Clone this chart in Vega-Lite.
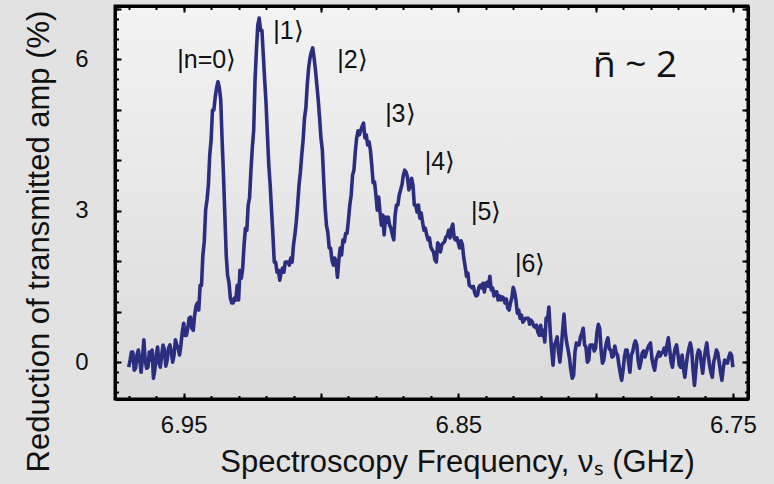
{
  "$schema": "https://vega.github.io/schema/vega-lite/v6.json",
  "width": 633,
  "height": 393,
  "autosize": {"type": "none"},
  "padding": {"left": 115, "top": 6, "right": 26, "bottom": 85},
  "background": "#e2e2e2",
  "config": {
    "font": "Liberation Sans",
    "view": {
      "fill": {"gradient": "linear", "x1": 0, "y1": 0, "x2": 0, "y2": 1, "stops": [{"offset": 0, "color": "#f3f3f3"}, {"offset": 1, "color": "#dadada"}]},
      "stroke": "#000",
      "strokeWidth": 3
    },
    "axis": {"zindex": 2, "grid": false, "tickColor": "#000", "tickWidth": 2, "domainColor": "#000", "domainWidth": 3}
  },
  "datasets": {
    "spectrum": [
      {"f":6.97,"a":-0.1},{"f":6.9695,"a":0.04},{"f":6.969,"a":0.2},{"f":6.9685,"a":0.2},{"f":6.968,"a":-0.16},{"f":6.9675,"a":-0.12},{"f":6.967,"a":0.14},{"f":6.9665,"a":0.24},{"f":6.966,"a":0.04},{"f":6.9655,"a":-0.2},
      {"f":6.965,"a":0.08},{"f":6.9645,"a":0.44},{"f":6.964,"a":0.04},{"f":6.9635,"a":-0.12},{"f":6.963,"a":-0.1},{"f":6.9625,"a":0.2},{"f":6.962,"a":0.04},{"f":6.9615,"a":0.24},{"f":6.961,"a":-0.32},{"f":6.9605,"a":-0.16},
      {"f":6.96,"a":0.14},{"f":6.9595,"a":0.3},{"f":6.959,"a":-0.02},{"f":6.9585,"a":-0.1},{"f":6.958,"a":0.14},{"f":6.9575,"a":0.34},{"f":6.957,"a":0.24},{"f":6.9565,"a":-0.08},{"f":6.956,"a":0.04},{"f":6.9555,"a":0.28},
      {"f":6.955,"a":0.34},{"f":6.9545,"a":0.2},{"f":6.954,"a":0.0},{"f":6.9535,"a":0.14},{"f":6.953,"a":0.44},{"f":6.9525,"a":0.34},{"f":6.952,"a":0.28},{"f":6.9515,"a":0.14},{"f":6.951,"a":0.34},{"f":6.9505,"a":0.6},
      {"f":6.95,"a":0.77},{"f":6.9495,"a":0.53},{"f":6.949,"a":0.53},{"f":6.9485,"a":0.67},{"f":6.948,"a":0.87},{"f":6.9475,"a":0.89},{"f":6.947,"a":0.67},{"f":6.9465,"a":0.63},{"f":6.946,"a":0.93},{"f":6.9455,"a":1.11},
      {"f":6.945,"a":1.17},{"f":6.9445,"a":1.03},{"f":6.944,"a":1.52},{"f":6.9435,"a":1.52},{"f":6.943,"a":2.12},{"f":6.9425,"a":2.38},{"f":6.942,"a":3.01},{"f":6.9415,"a":3.21},{"f":6.941,"a":3.5},{"f":6.9405,"a":4.1},
      {"f":6.94,"a":4.4},{"f":6.9395,"a":4.99},{"f":6.939,"a":4.99},{"f":6.9385,"a":5.25},{"f":6.938,"a":5.43},{"f":6.9375,"a":5.55},{"f":6.937,"a":5.43},{"f":6.9365,"a":5.19},{"f":6.936,"a":4.4},{"f":6.9355,"a":3.7},
      {"f":6.935,"a":2.91},{"f":6.9345,"a":2.12},{"f":6.934,"a":1.72},{"f":6.9335,"a":1.58},{"f":6.933,"a":1.27},{"f":6.9325,"a":1.17},{"f":6.932,"a":1.17},{"f":6.9315,"a":1.27},{"f":6.931,"a":1.23},{"f":6.9305,"a":1.52},
      {"f":6.93,"a":1.23},{"f":6.9295,"a":1.82},{"f":6.929,"a":1.66},{"f":6.9285,"a":1.86},{"f":6.928,"a":2.32},{"f":6.9275,"a":2.65},{"f":6.927,"a":2.61},{"f":6.9265,"a":3.11},{"f":6.926,"a":3.25},{"f":6.9255,"a":3.8},
      {"f":6.925,"a":4.24},{"f":6.9245,"a":4.59},{"f":6.924,"a":5.59},{"f":6.9235,"a":6.18},{"f":6.923,"a":6.67},{"f":6.9225,"a":6.81},{"f":6.922,"a":6.57},{"f":6.9215,"a":6.57},{"f":6.921,"a":6.08},{"f":6.9205,"a":5.59},
      {"f":6.92,"a":5.13},{"f":6.9195,"a":4.5},{"f":6.919,"a":3.9},{"f":6.9185,"a":3.51},{"f":6.918,"a":3.01},{"f":6.9175,"a":2.52},{"f":6.917,"a":1.98},{"f":6.9165,"a":1.98},{"f":6.916,"a":1.78},{"f":6.9155,"a":1.82},
      {"f":6.915,"a":1.62},{"f":6.9145,"a":1.78},{"f":6.914,"a":1.86},{"f":6.9135,"a":1.78},{"f":6.913,"a":1.98},{"f":6.9125,"a":1.98},{"f":6.912,"a":1.98},{"f":6.9115,"a":1.92},{"f":6.911,"a":2.06},{"f":6.9105,"a":1.98},
      {"f":6.91,"a":2.32},{"f":6.9095,"a":2.52},{"f":6.909,"a":2.77},{"f":6.9085,"a":3.11},{"f":6.908,"a":3.5},{"f":6.9075,"a":3.76},{"f":6.907,"a":4.1},{"f":6.9065,"a":4.4},{"f":6.906,"a":4.83},{"f":6.9055,"a":5.03},
      {"f":6.905,"a":5.49},{"f":6.9045,"a":5.82},{"f":6.904,"a":6.02},{"f":6.9035,"a":6.14},{"f":6.903,"a":6.22},{"f":6.9025,"a":6.02},{"f":6.902,"a":5.78},{"f":6.9015,"a":5.49},{"f":6.901,"a":5.19},{"f":6.9005,"a":4.83},
      {"f":6.9,"a":4.44},{"f":6.8995,"a":4.2},{"f":6.899,"a":3.6},{"f":6.8985,"a":3.07},{"f":6.898,"a":2.71},{"f":6.8975,"a":2.57},{"f":6.897,"a":2.26},{"f":6.8965,"a":2.26},{"f":6.896,"a":2.02},{"f":6.8955,"a":1.92},
      {"f":6.895,"a":2.06},{"f":6.8945,"a":1.98},{"f":6.894,"a":1.68},{"f":6.8935,"a":2.02},{"f":6.893,"a":2.26},{"f":6.8925,"a":2.12},{"f":6.892,"a":2.42},{"f":6.8915,"a":2.38},{"f":6.891,"a":2.55},{"f":6.8905,"a":2.55},
      {"f":6.89,"a":2.81},{"f":6.8895,"a":3.11},{"f":6.889,"a":3.31},{"f":6.8885,"a":3.7},{"f":6.888,"a":3.8},{"f":6.8875,"a":4.16},{"f":6.887,"a":4.44},{"f":6.8865,"a":4.58},{"f":6.886,"a":4.5},{"f":6.8855,"a":4.59},
      {"f":6.885,"a":4.67},{"f":6.8845,"a":4.73},{"f":6.884,"a":4.44},{"f":6.8835,"a":4.5},{"f":6.883,"a":4.3},{"f":6.8825,"a":4.36},{"f":6.882,"a":4.2},{"f":6.8815,"a":3.9},{"f":6.881,"a":3.55},{"f":6.8805,"a":3.57},
      {"f":6.88,"a":3.31},{"f":6.8795,"a":3.01},{"f":6.879,"a":3.27},{"f":6.8785,"a":2.97},{"f":6.878,"a":2.71},{"f":6.8775,"a":2.91},{"f":6.877,"a":2.52},{"f":6.8765,"a":2.87},{"f":6.876,"a":2.77},{"f":6.8755,"a":2.87},
      {"f":6.875,"a":2.71},{"f":6.8745,"a":2.65},{"f":6.874,"a":2.52},{"f":6.8735,"a":2.42},{"f":6.873,"a":2.91},{"f":6.8725,"a":3.11},{"f":6.872,"a":3.11},{"f":6.8715,"a":3.31},{"f":6.871,"a":3.41},{"f":6.8705,"a":3.51},
      {"f":6.87,"a":3.7},{"f":6.8695,"a":3.8},{"f":6.869,"a":3.76},{"f":6.8685,"a":3.66},{"f":6.868,"a":3.41},{"f":6.8675,"a":3.47},{"f":6.867,"a":3.64},{"f":6.8665,"a":3.51},{"f":6.866,"a":3.11},{"f":6.8655,"a":3.11},
      {"f":6.865,"a":2.97},{"f":6.8645,"a":3.11},{"f":6.864,"a":2.85},{"f":6.8635,"a":2.95},{"f":6.863,"a":2.77},{"f":6.8625,"a":2.61},{"f":6.862,"a":2.65},{"f":6.8615,"a":2.52},{"f":6.861,"a":2.42},{"f":6.8605,"a":2.46},
      {"f":6.86,"a":2.28},{"f":6.8595,"a":2.22},{"f":6.859,"a":2.18},{"f":6.8585,"a":2.02},{"f":6.858,"a":1.98},{"f":6.8575,"a":2.36},{"f":6.857,"a":2.32},{"f":6.8565,"a":2.18},{"f":6.856,"a":2.32},{"f":6.8555,"a":2.36},
      {"f":6.855,"a":2.38},{"f":6.8545,"a":2.48},{"f":6.854,"a":2.5},{"f":6.8535,"a":2.61},{"f":6.853,"a":2.46},{"f":6.8525,"a":2.65},{"f":6.852,"a":2.73},{"f":6.8515,"a":2.46},{"f":6.851,"a":2.42},{"f":6.8505,"a":2.46},
      {"f":6.85,"a":2.36},{"f":6.8495,"a":2.26},{"f":6.849,"a":2.4},{"f":6.8485,"a":2.32},{"f":6.848,"a":2.06},{"f":6.8475,"a":1.9},{"f":6.847,"a":1.7},{"f":6.8465,"a":1.76},{"f":6.846,"a":1.52},{"f":6.8455,"a":1.5},
      {"f":6.845,"a":1.47},{"f":6.8445,"a":1.5},{"f":6.844,"a":1.37},{"f":6.8435,"a":1.31},{"f":6.843,"a":1.33},{"f":6.8425,"a":1.48},{"f":6.842,"a":1.52},{"f":6.8415,"a":1.47},{"f":6.841,"a":1.56},{"f":6.8405,"a":1.39},
      {"f":6.84,"a":1.56},{"f":6.8395,"a":1.58},{"f":6.839,"a":1.5},{"f":6.8385,"a":1.7},{"f":6.838,"a":1.43},{"f":6.8375,"a":1.47},{"f":6.837,"a":1.31},{"f":6.8365,"a":1.39},{"f":6.836,"a":1.39},{"f":6.8355,"a":1.23},
      {"f":6.835,"a":1.31},{"f":6.8345,"a":1.23},{"f":6.834,"a":1.29},{"f":6.8335,"a":1.27},{"f":6.833,"a":1.17},{"f":6.8325,"a":1.25},{"f":6.832,"a":1.07},{"f":6.8315,"a":1.03},{"f":6.831,"a":1.17},{"f":6.8305,"a":1.27},
      {"f":6.83,"a":1.48},{"f":6.8295,"a":1.39},{"f":6.829,"a":1.23},{"f":6.8285,"a":0.97},{"f":6.828,"a":1.03},{"f":6.8275,"a":0.87},{"f":6.827,"a":0.93},{"f":6.8265,"a":0.79},{"f":6.826,"a":0.83},{"f":6.8255,"a":0.87},
      {"f":6.825,"a":0.87},{"f":6.8245,"a":0.87},{"f":6.824,"a":0.75},{"f":6.8235,"a":0.83},{"f":6.823,"a":0.79},{"f":6.8225,"a":0.71},{"f":6.822,"a":0.69},{"f":6.8215,"a":0.73},{"f":6.821,"a":0.59},{"f":6.8205,"a":0.53},
      {"f":6.82,"a":0.73},{"f":6.8195,"a":0.53},{"f":6.819,"a":0.63},{"f":6.8185,"a":0.4},{"f":6.818,"a":0.87},{"f":6.8175,"a":0.83},{"f":6.817,"a":1.09},{"f":6.8165,"a":0.59},{"f":6.816,"a":0.24},{"f":6.8155,"a":-0.06},
      {"f":6.815,"a":0.34},{"f":6.8145,"a":0.4},{"f":6.814,"a":0.5},{"f":6.8135,"a":0.2},{"f":6.813,"a":0.0},{"f":6.8125,"a":0.28},{"f":6.812,"a":0.63},{"f":6.8115,"a":0.95},{"f":6.811,"a":0.57},{"f":6.8105,"a":0.38},
      {"f":6.81,"a":0.24},{"f":6.8095,"a":0.08},{"f":6.809,"a":-0.16},{"f":6.8085,"a":-0.32},{"f":6.808,"a":-0.26},{"f":6.8075,"a":0.2},{"f":6.807,"a":0.38},{"f":6.8065,"a":0.34},{"f":6.806,"a":0.34},{"f":6.8055,"a":0.5},
      {"f":6.805,"a":0.57},{"f":6.8045,"a":0.67},{"f":6.804,"a":0.34},{"f":6.8035,"a":0.3},{"f":6.803,"a":0.0},{"f":6.8025,"a":0.04},{"f":6.802,"a":0.34},{"f":6.8015,"a":0.34},{"f":6.801,"a":0.34},{"f":6.8005,"a":0.22},
      {"f":6.8,"a":0.28},{"f":6.7995,"a":0.59},{"f":6.799,"a":0.75},{"f":6.7985,"a":0.67},{"f":6.798,"a":0.24},{"f":6.7975,"a":-0.02},{"f":6.797,"a":0.04},{"f":6.7965,"a":0.26},{"f":6.796,"a":0.4},{"f":6.7955,"a":0.48},
      {"f":6.795,"a":0.26},{"f":6.7945,"a":0.24},{"f":6.794,"a":0.1},{"f":6.7935,"a":0.12},{"f":6.793,"a":0.32},{"f":6.7925,"a":0.18},{"f":6.792,"a":0.14},{"f":6.7915,"a":-0.06},{"f":6.791,"a":-0.22},{"f":6.7905,"a":-0.36},
      {"f":6.79,"a":-0.16},{"f":6.7895,"a":0.1},{"f":6.789,"a":0.24},{"f":6.7885,"a":0.24},{"f":6.788,"a":0.0},{"f":6.7875,"a":-0.2},{"f":6.787,"a":0.14},{"f":6.7865,"a":0.2},{"f":6.786,"a":0.34},{"f":6.7855,"a":0.42},
      {"f":6.785,"a":0.34},{"f":6.7845,"a":0.04},{"f":6.784,"a":-0.12},{"f":6.7835,"a":0.0},{"f":6.783,"a":0.18},{"f":6.7825,"a":0.22},{"f":6.782,"a":0.1},{"f":6.7815,"a":0.2},{"f":6.781,"a":0.28},{"f":6.7805,"a":0.34},
      {"f":6.78,"a":0.38},{"f":6.7795,"a":0.08},{"f":6.779,"a":-0.06},{"f":6.7785,"a":-0.16},{"f":6.778,"a":0.04},{"f":6.7775,"a":0.12},{"f":6.777,"a":0.2},{"f":6.7765,"a":0.12},{"f":6.776,"a":0.18},{"f":6.7755,"a":0.2},
      {"f":6.775,"a":0.28},{"f":6.7745,"a":0.14},{"f":6.774,"a":0.34},{"f":6.7735,"a":0.48},{"f":6.773,"a":0.24},{"f":6.7725,"a":0.0},{"f":6.772,"a":-0.1},{"f":6.7715,"a":0.14},{"f":6.771,"a":0.28},{"f":6.7705,"a":0.34},
      {"f":6.77,"a":0.14},{"f":6.7695,"a":-0.06},{"f":6.769,"a":-0.1},{"f":6.7685,"a":0.14},{"f":6.768,"a":-0.12},{"f":6.7675,"a":-0.3},{"f":6.767,"a":-0.06},{"f":6.7665,"a":0.14},{"f":6.766,"a":0.28},{"f":6.7655,"a":0.38},
      {"f":6.765,"a":0.24},{"f":6.7645,"a":-0.16},{"f":6.764,"a":-0.46},{"f":6.7635,"a":-0.16},{"f":6.763,"a":0.14},{"f":6.7625,"a":0.24},{"f":6.762,"a":0.2},{"f":6.7615,"a":-0.02},{"f":6.761,"a":-0.22},{"f":6.7605,"a":0.04},
      {"f":6.76,"a":0.24},{"f":6.7595,"a":0.38},{"f":6.759,"a":0.14},{"f":6.7585,"a":-0.06},{"f":6.758,"a":-0.2},{"f":6.7575,"a":-0.3},{"f":6.757,"a":0.0},{"f":6.7565,"a":0.1},{"f":6.756,"a":0.24},{"f":6.7555,"a":0.18},
      {"f":6.755,"a":0.0},{"f":6.7545,"a":-0.2},{"f":6.754,"a":-0.36},{"f":6.7535,"a":-0.12},{"f":6.753,"a":0.04},{"f":6.7525,"a":0.0},{"f":6.752,"a":-0.02},{"f":6.7515,"a":0.1},{"f":6.751,"a":0.18},{"f":6.7505,"a":0.14},
      {"f":6.75,"a":-0.1}
    ],
    "kets": [
      {"f":6.9416,"a":5.82,"t":"|n=0⟩"},
      {"f":6.9118,"a":6.40,"t":"|1⟩"},
      {"f":6.8885,"a":5.82,"t":"|2⟩"},
      {"f":6.8711,"a":4.75,"t":"|3⟩"},
      {"f":6.8567,"a":3.80,"t":"|4⟩"},
      {"f":6.8398,"a":2.81,"t":"|5⟩"},
      {"f":6.8238,"a":1.78,"t":"|6⟩"}
    ],
    "note": [
      {"f":6.7856,"a":5.64,"t":"n̄ ~ 2"}
    ]
  },
  "layer": [
    {
      "data": {"name": "spectrum"},
      "mark": {"type": "line", "color": "#2b2e7f", "strokeWidth": 3.6, "strokeJoin": "round"},
      "encoding": {
        "x": {
          "field": "f", "type": "quantitative",
          "scale": {"domain": [6.7445, 6.975], "reverse": true, "nice": false, "zero": false},
          "axis": {
            "orient": "bottom",
            "values": [6.75,6.8,6.85,6.9,6.95],
            "labelExpr": "(abs(datum.value-6.95)<0.001||abs(datum.value-6.85)<0.001||abs(datum.value-6.75)<0.001) ? format(datum.value,'.2f') : ''",
            "labelOverlap": false, "labelFlush": false,
            "labelFontSize": 24, "labelColor": "#111", "labelPadding": 20,
            "tickSize": -6,
            "title": "Spectroscopy Frequency, νₛ (GHz)",
            "titleFontSize": 31, "titleFontWeight": "normal", "titleColor": "#111", "titlePadding": 10, "titleX": 342
          }
        },
        "y": {
          "field": "a", "type": "quantitative",
          "scale": {"domain": [-0.73, 7.05], "nice": false, "zero": false},
          "axis": {
            "orient": "left",
            "values": [0,1,2,3,4,5,6,7],
            "labelExpr": "(datum.value==0||datum.value==3||datum.value==6) ? format(datum.value,'d') : ''",
            "labelOverlap": false, "labelFlush": false,
            "labelFontSize": 24, "labelColor": "#111", "labelPadding": 33,
            "tickSize": -6,
            "title": "Reduction of transmitted amp (%)",
            "titleFontSize": 31, "titleFontWeight": "normal", "titleColor": "#111", "titlePadding": 19, "titleY": 235
          }
        }
      }
    },
    {
      "data": {"name": "kets"},
      "mark": {"type": "text", "font": "Liberation Sans", "fontSize": 25, "color": "#111", "align": "center", "baseline": "alphabetic"},
      "encoding": {
        "x": {
          "field": "f", "type": "quantitative",
          "scale": {"domain": [6.7445, 6.975], "reverse": true, "nice": false, "zero": false},
          "axis": {"orient": "top", "values": [6.75,6.8,6.85,6.9,6.95], "labels": false, "title": null, "tickSize": -6}
        },
        "y": {
          "field": "a", "type": "quantitative",
          "scale": {"domain": [-0.73, 7.05], "nice": false, "zero": false},
          "axis": {"orient": "right", "values": [0,1,2,3,4,5,6,7], "labels": false, "title": null, "tickSize": -6}
        },
        "text": {"field": "t", "type": "nominal"}
      }
    },
    {
      "data": {"name": "note"},
      "mark": {"type": "text", "font": "Open Sans", "fontSize": 37, "color": "#111", "align": "center", "baseline": "alphabetic"},
      "encoding": {
        "x": {
          "field": "f", "type": "quantitative",
          "scale": {"domain": [6.7445, 6.975], "reverse": true, "nice": false, "zero": false},
          "axis": {"orient": "bottom", "values": [6.75,6.76,6.77,6.78,6.79,6.8,6.81,6.82,6.83,6.84,6.85,6.86,6.87,6.88,6.89,6.9,6.91,6.92,6.93,6.94,6.95,6.96,6.97], "labels": false, "title": null, "tickSize": -3.5, "domain": false}
        },
        "y": {
          "field": "a", "type": "quantitative",
          "scale": {"domain": [-0.73, 7.05], "nice": false, "zero": false},
          "axis": {"orient": "left", "values": [-0.6,-0.4,-0.2,0,0.2,0.4,0.6,0.8,1,1.2,1.4,1.6,1.8,2,2.2,2.4,2.6,2.8,3,3.2,3.4,3.6,3.8,4,4.2,4.4,4.6,4.8,5,5.2,5.4,5.6,5.8,6,6.2,6.4,6.6,6.8,7], "labels": false, "title": null, "tickSize": -3.5, "domain": false}
        },
        "text": {"field": "t", "type": "nominal"}
      }
    },
    {
      "data": {"name": "note"},
      "mark": {"type": "point", "opacity": 0},
      "encoding": {
        "x": {
          "field": "f", "type": "quantitative",
          "scale": {"domain": [6.7445, 6.975], "reverse": true, "nice": false, "zero": false},
          "axis": {"orient": "top", "values": [6.75,6.76,6.77,6.78,6.79,6.8,6.81,6.82,6.83,6.84,6.85,6.86,6.87,6.88,6.89,6.9,6.91,6.92,6.93,6.94,6.95,6.96,6.97], "labels": false, "title": null, "tickSize": -3.5, "domain": false}
        },
        "y": {
          "field": "a", "type": "quantitative",
          "scale": {"domain": [-0.73, 7.05], "nice": false, "zero": false},
          "axis": {"orient": "right", "values": [-0.6,-0.4,-0.2,0,0.2,0.4,0.6,0.8,1,1.2,1.4,1.6,1.8,2,2.2,2.4,2.6,2.8,3,3.2,3.4,3.6,3.8,4,4.2,4.4,4.6,4.8,5,5.2,5.4,5.6,5.8,6,6.2,6.4,6.6,6.8,7], "labels": false, "title": null, "tickSize": -3.5, "domain": false}
        }
      }
    }
  ],
  "resolve": {"axis": {"x": "independent", "y": "independent"}}
}
